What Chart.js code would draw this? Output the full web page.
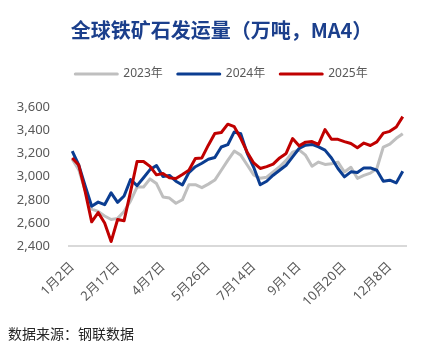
<!DOCTYPE html>
<html>
<head>
<meta charset="utf-8">
<script src="https://cdn.jsdelivr.net/npm/chart.js@4.4.1/dist/chart.umd.min.js"></script>
<style>
  html, body { margin: 0; padding: 0; background: #ffffff; }
  #wrap { width: 443px; height: 354px; position: relative; }
</style>
</head>
<body>
<div id="wrap"><canvas id="c" width="443" height="354"></canvas></div>
<script>
const categories = [
  "1月2日","1月6日","1月13日","1月20日","1月27日","2月3日","2月10日","2月17日","2月24日","3月3日",
  "3月10日","3月17日","3月24日","3月31日","4月7日","4月14日","4月21日","4月28日","5月5日","5月12日",
  "5月19日","5月26日","6月2日","6月9日","6月16日","6月23日","6月30日","7月7日","7月14日","7月21日",
  "7月28日","8月4日","8月11日","8月18日","8月25日","9月1日","9月8日","9月15日","9月22日","9月29日",
  "10月6日","10月13日","10月20日","10月27日","11月3日","11月10日","11月17日","11月24日","12月1日","12月8日",
  "12月15日","12月22日"
];

const series2023 = [
  3150, 3060, 2880, 2720, 2700, 2660, 2630, 2640, 2700, 2790,
  2910, 2910, 2980, 2940, 2825, 2815, 2770, 2800, 2930, 2930,
  2905, 2935, 2970, 3055, 3140, 3220, 3185, 3100, 3015, 2985,
  2995, 3040, 3085, 3140, 3210, 3230, 3185, 3090, 3125, 3105,
  3110, 3125, 3040, 3080, 2985, 3010, 3030, 3070, 3255, 3280,
  3330, 3370
];

const series2024 = [
  3220, 3100, 2920, 2745, 2780, 2758, 2860, 2778, 2833, 2975,
  2922, 2990, 3060, 3095, 3000, 3010, 2960, 2928, 3035, 3085,
  3115, 3150, 3165, 3255, 3275, 3385, 3370, 3200, 3080, 2930,
  2960, 3012, 3055, 3098, 3170, 3242, 3271, 3277, 3256, 3228,
  3161, 3070, 2998, 3041, 3035, 3075, 3075, 3055, 2960, 2969,
  2946, 3046
];

const series2025 = [
  3160, 3100, 2870, 2610, 2690, 2600, 2440, 2630, 2620, 2870,
  3130, 3130, 3088, 3015, 3027, 2989, 2983, 3018, 3055, 3156,
  3161, 3271, 3371, 3380, 3452, 3430, 3330, 3210, 3118, 3070,
  3086, 3107, 3161, 3200, 3328, 3265, 3297, 3302, 3278, 3406,
  3322, 3321, 3302, 3285, 3249, 3289, 3268, 3299, 3375, 3390,
  3428, 3517
];

const seriesNames = ["2023年", "2024年", "2025年"];
const seriesColors = ["#bfbfbf", "#0b3d91", "#c00000"];
const yTicks = [2400, 2600, 2800, 3000, 3200, 3400, 3600];

const tickFont = { family: "'Noto Sans', 'Noto Sans CJK SC', sans-serif", size: 13 };

function fmt(v) {
  return v.toLocaleString('en-US');
}

const ds = [series2023, series2024, series2025].map((vals, k) => ({
  label: seriesNames[k],
  data: vals,
  borderColor: seriesColors[k],
  backgroundColor: seriesColors[k],
  borderWidth: 3,
  pointRadius: 0,
  pointHoverRadius: 0,
  tension: 0,
  fill: false,
  order: 3 - k,
  borderJoinStyle: 'round',
  borderCapStyle: 'butt'
}));

new Chart(document.getElementById('c'), {
  type: 'line',
  data: { labels: categories, datasets: ds },
  options: {
    responsive: false,
    animation: false,
    devicePixelRatio: 1,
    layout: { padding: { left: 8, right: 8, top: 0, bottom: 0 } },
    plugins: {
      tooltip: { enabled: false },
      title: {
        display: true,
        text: '全球铁矿石发运量（万吨，MA4）',
        color: '#1b3f8c',
        font: { family: "'Noto Sans CJK SC', sans-serif", size: 20, weight: 'bold' },
        padding: { top: 18, bottom: 11 }
      },
      subtitle: {
        display: true,
        position: 'bottom',
        align: 'start',
        text: '数据来源：钢联数据',
        color: '#262626',
        font: { family: "'Noto Sans CJK SC', sans-serif", size: 14, weight: 'normal' },
        padding: { top: 0, bottom: 12 }
      },
      legend: {
        display: true,
        position: 'top',
        labels: {
          boxWidth: 42,
          boxHeight: 0,
          padding: 15,
          color: '#595959',
          font: { family: "'Noto Sans', 'Noto Sans CJK SC', sans-serif", size: 12 },
          sort: (a, b) => a.datasetIndex - b.datasetIndex
        }
      }
    },
    scales: {
      x: {
        type: 'category',
        offset: true,
        grid: { display: false },
        border: { display: true, color: '#d9d9d9', width: 2 },
        ticks: {
          autoSkip: false,
          minRotation: 45,
          maxRotation: 45,
          padding: 5,
          color: '#595959',
          font: tickFont,
          callback: function (val, idx) {
            return idx % 7 === 0 ? this.getLabelForValue(val) : '';
          }
        },
        afterFit: s => { s.height = 79; }
      },
      xTop: {
        type: 'category',
        position: 'top',
        display: true,
        grid: { display: false },
        border: { display: false },
        ticks: { display: false },
        afterFit: s => { s.height = 17; }
      },
      y: {
        min: 2400,
        max: 3600,
        grid: { display: false, drawTicks: false },
        border: { display: false },
        afterBuildTicks: s => { s.ticks = yTicks.map(v => ({ value: v })); },
        ticks: {
          padding: 19,
          color: '#595959',
          font: tickFont,
          callback: v => fmt(v)
        },
        afterFit: s => { s.width = 61; }
      },
      yRight: {
        position: 'right',
        display: true,
        grid: { display: false },
        border: { display: false },
        ticks: { display: false },
        afterFit: s => { s.width = 29; }
      }
    }
  }
});
</script>
</body>
</html>
